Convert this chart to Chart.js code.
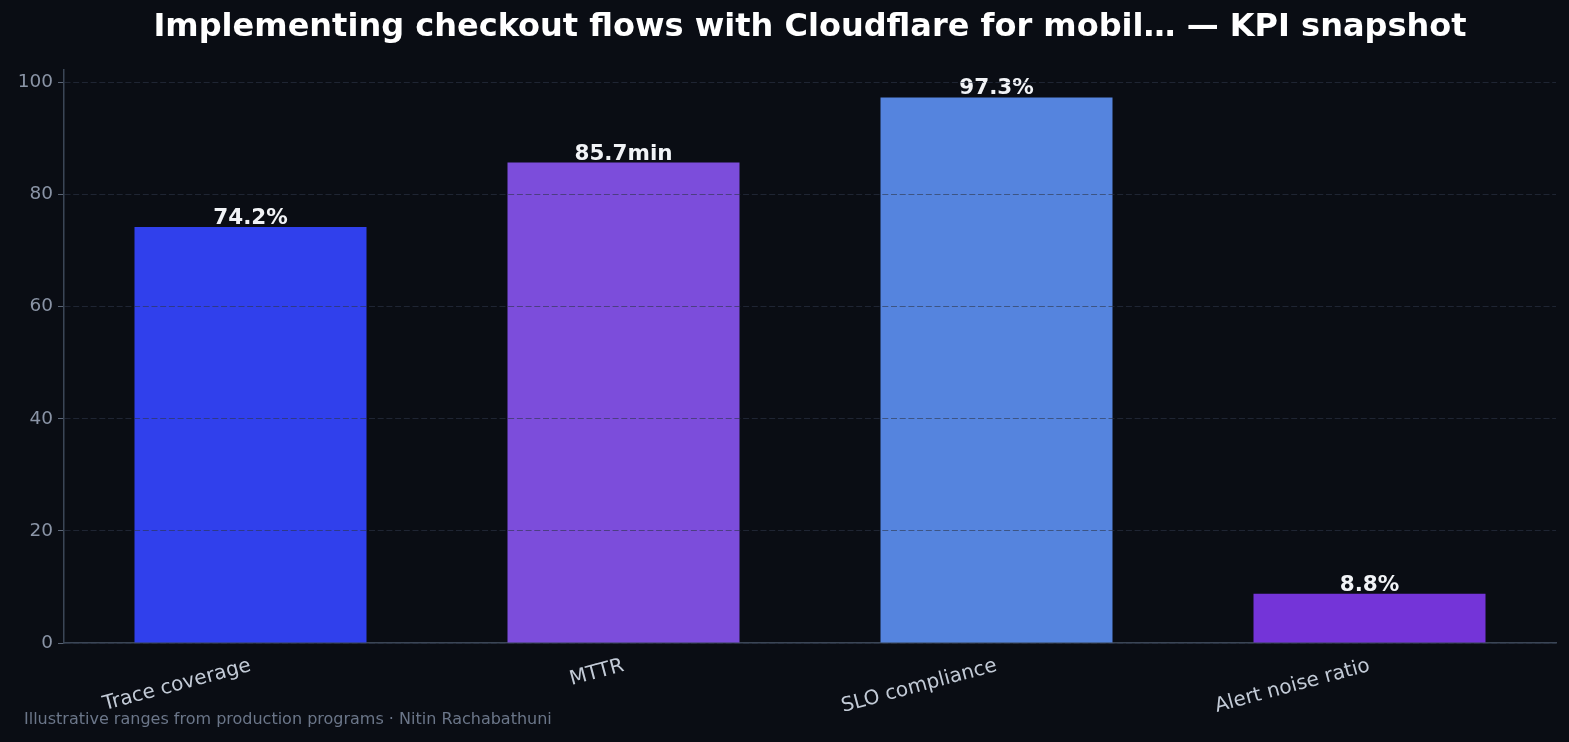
<!DOCTYPE html>
<html>
<head>
<meta charset="utf-8">
<script src="https://cdn.jsdelivr.net/npm/chart.js@4.4.1/dist/chart.umd.min.js"></script>
<style>
  html, body { margin:0; padding:0; background:#0a0d14; }
  #wrap { width:1569px; height:742px; }
</style>
</head>
<body>
<div id="wrap"><canvas id="kpi" width="1569" height="742"></canvas></div>
<script>
/* KPI snapshot - barras */
const categories = ["Trace coverage", "MTTR", "SLO compliance", "Alert noise ratio"];
const values = [74.2, 85.7, 97.3, 8.8];
const units = ["%", "min", "%", "%"];
const barColors = ["#3040ec", "#7c4ddb", "#5584de", "#7434d8"];
const yTicks = [0, 20, 40, 60, 80, 100];

const titleText = "Implementing checkout flows with Cloudflare for mobil\u2026 \u2014 KPI snapshot";
const footerText = "Illustrative ranges from production programs \u00b7 Nitin Rachabathuni";
const FONT = "'DejaVu Sans', sans-serif";

const extras = {
  id: "extras",
  afterDatasetsDraw(chart){
    const { ctx } = chart;
    const meta = chart.getDatasetMeta(0);
    ctx.save();
    ctx.fillStyle = "#f1f3f6";
    ctx.font = `bold 21.5px ${FONT}`;
    ctx.textAlign = "center";
    ctx.textBaseline = "alphabetic";
    meta.data.forEach((bar, i) => {
      ctx.fillText(values[i].toFixed(1) + units[i], bar.x, bar.y - 3);
    });
    ctx.restore();
  },
  afterDraw(chart){
    const { ctx, chartArea } = chart;
    ctx.save();
    ctx.fillStyle = "#ffffff";
    ctx.font = `bold 32px ${FONT}`;
    ctx.textAlign = "center";
    ctx.textBaseline = "middle";
    ctx.fillText(titleText, (chartArea.left + chartArea.right) / 2, 28);
    ctx.fillStyle = "#6b7689";
    ctx.font = `16px ${FONT}`;
    ctx.textAlign = "left";
    ctx.fillText(footerText, 24, 720);
    ctx.restore();
  }
};

new Chart(document.getElementById("kpi").getContext("2d"), {
  type: "bar",
  data: {
    labels: categories,
    datasets: [{
      label: "KPI",
      data: values,
      backgroundColor: barColors,
      borderWidth: 0,
      barPercentage: 0.622,
      categoryPercentage: 1
    }]
  },
  options: {
    responsive: false,
    animation: false,
    devicePixelRatio: 1,
    layout: { padding: { top: 70, right: 13, left: 0, bottom: 0 } },
    plugins: {
      legend: { display: false },
      tooltip: { enabled: false }
    },
    scales: {
      x: {
        grid: { display: false, drawTicks: true, tickLength: 5, tickColor: "#000000" },
        border: { color: "#3b4656", width: 1.5 },
        ticks: {
          color: "#c2cad6",
          font: { family: FONT, size: 20 },
          minRotation: 15,
          maxRotation: 15,
          padding: 6
        },
        afterFit(scale){ scale.height = 99; }
      },
      y: {
        min: 0,
        max: 102.2,
        afterBuildTicks(scale){ scale.ticks = yTicks.map(v => ({ value: v })); },
        grid: {
          z: 1,
          color: "rgba(45,53,72,0.6)",
          lineWidth: 1,
          tickLength: 6,
          tickColor: "#5a6475",
          drawTicks: true
        },
        border: { z: 2, color: "#3b4656", width: 1.5, dash: [6, 2.7] },
        ticks: {
          color: "#8a94a6",
          font: { family: FONT, size: 18.5 },
          padding: 5
        },
        afterFit(scale){ scale.width = 64; }
      }
    }
  },
  plugins: [extras]
});
</script>
</body>
</html>
